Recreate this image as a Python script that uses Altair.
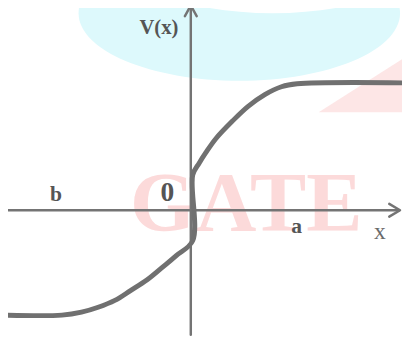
import altair as alt
import pandas as pd

# ---- data (x right, V up; axes cross at 0,0) ----
curve_x = [-19.2, -13.2, -11.2, -9.5, -7.8, -6.2, -4.5, -2.8, -1.5, 0.15,
           0.15, 0.8, 1.5, 2.5, 4.2, 5.8, 7.5, 9.2, 10.8, 21.5]
curve_y = [-10.7, -10.7, -10.4, -9.9, -9.2, -8.2, -7.1, -5.7, -4.6, -3.1,
           3.6, 4.8, 5.9, 7.3, 9.1, 10.6, 11.8, 12.6, 12.9, 13.0]

haxis_x = [-19.0, 21.2]
haxis_y = [0.0, 0.0]
vaxis_x = [-0.05, -0.05]
vaxis_y = [-12.7, 20.9]
harrow_x = [20.2, 21.3, 20.2]
harrow_y = [0.65, 0.0, -0.65]
varrow_x = [-0.65, -0.05, 0.55]
varrow_y = [19.8, 20.9, 19.8]

title_label = ["V(x)"]
title_x = [-3.3]
title_y = [18.0]
point_labels = ["b", "a"]
point_x = [-13.8, 10.75]
point_y = [0.9, -2.3]
origin_label = ["0"]
origin_x = [-2.45]
origin_y = [0.9]
axis_label = ["x"]
axis_lx = [19.25]
axis_ly = [-2.9]

# watermark pieces
wm_text = ["GATE"]
wm_x = [5.6]
wm_y = [-2.1]
ring_x = [4.9]
ring_y = [20.1]
hole_x = [8.3]
hole_y = [27.2]
wedge_x = [13.0, 21.5]
wedge_top = [10.0, 15.4]
wedge_bot = [10.0, 10.0]

XS = alt.Scale(domain=[-18.7, 21.5], nice=False, zero=False)
YS = alt.Scale(domain=[-12.7, 20.3], nice=False, zero=False)
GRAY = "#747474"
TXT = "#555555"
FONT = "Liberation Serif"

ELLIPSE = ("M -1 0 C -1 -0.232 -0.552 -0.42 0 -0.42 C 0.552 -0.42 1 -0.232 1 0 "
           "C 1 0.232 0.552 0.42 0 0.42 C -0.552 0.42 -1 0.232 -1 0 Z")


def X(f="x"):
    return alt.X(f"{f}:Q", scale=XS, axis=None)


def Y(f="y"):
    return alt.Y(f"{f}:Q", scale=YS, axis=None)


def poly(xs, ys):
    return pd.DataFrame({"x": xs, "y": ys, "i": list(range(len(xs)))})


ring = alt.Chart(pd.DataFrame({"x": ring_x, "y": ring_y})).mark_point(
    shape=ELLIPSE, filled=True, fill="#ddf9fc", strokeWidth=0, opacity=1, size=107584
).encode(x=X(), y=Y())
hole = alt.Chart(pd.DataFrame({"x": hole_x, "y": hole_y})).mark_point(
    shape=ELLIPSE, filled=True, fill="#ffffff", strokeWidth=0, opacity=1, size=114244
).encode(x=X(), y=Y())
wedge = alt.Chart(pd.DataFrame({"x": wedge_x, "y": wedge_top, "y2": wedge_bot})).mark_area(
    color="#fde6e6"
).encode(x=X(), y=Y(), y2="y2:Q")
gate = alt.Chart(pd.DataFrame({"x": wm_x, "y": wm_y, "t": wm_text})).mark_text(
    font=FONT, fontSize=86, fontWeight="bold", color="#fcdada",
    align="center", baseline="alphabetic"
).encode(x=X(), y=Y(), text="t:N")


def line(df, width, color, interp="linear"):
    return alt.Chart(df).mark_line(
        color=color, strokeWidth=width, strokeCap="round", strokeJoin="round",
        interpolate=interp
    ).encode(x=X(), y=Y(), order="i:Q")


haxis = line(poly(haxis_x, haxis_y), 2.5, GRAY)
vaxis = line(poly(vaxis_x, vaxis_y), 2.5, GRAY)
harrow = line(poly(harrow_x, harrow_y), 2.5, GRAY)
varrow = line(poly(varrow_x, varrow_y), 2.5, GRAY)
curve = line(poly(curve_x, curve_y), 5, "#707070", "catmull-rom")


def text(labels, xs, ys, size, weight, color):
    return alt.Chart(pd.DataFrame({"x": xs, "y": ys, "t": labels})).mark_text(
        font=FONT, fontSize=size, fontWeight=weight, color=color,
        align="center", baseline="alphabetic"
    ).encode(x=X(), y=Y(), text="t:N")


t_title = text(title_label, title_x, title_y, 21, "bold", TXT)
t_pts = text(point_labels, point_x, point_y, 22, "bold", TXT)
t_org = text(origin_label, origin_x, origin_y, 28, "bold", TXT)
t_ax = text(axis_label, axis_lx, axis_ly, 24, "normal", "#6a6a6a")

chart = alt.layer(
    ring, hole, wedge, gate, haxis, vaxis, harrow, varrow, curve,
    t_title, t_pts, t_org, t_ax
).properties(
    width=402, height=330,
    autosize=alt.AutoSizeParams(type="none"),
    padding=0, background="white"
).configure_view(stroke=None)

chart.save("out.html", embed_options={"renderer": "svg", "actions": False})
